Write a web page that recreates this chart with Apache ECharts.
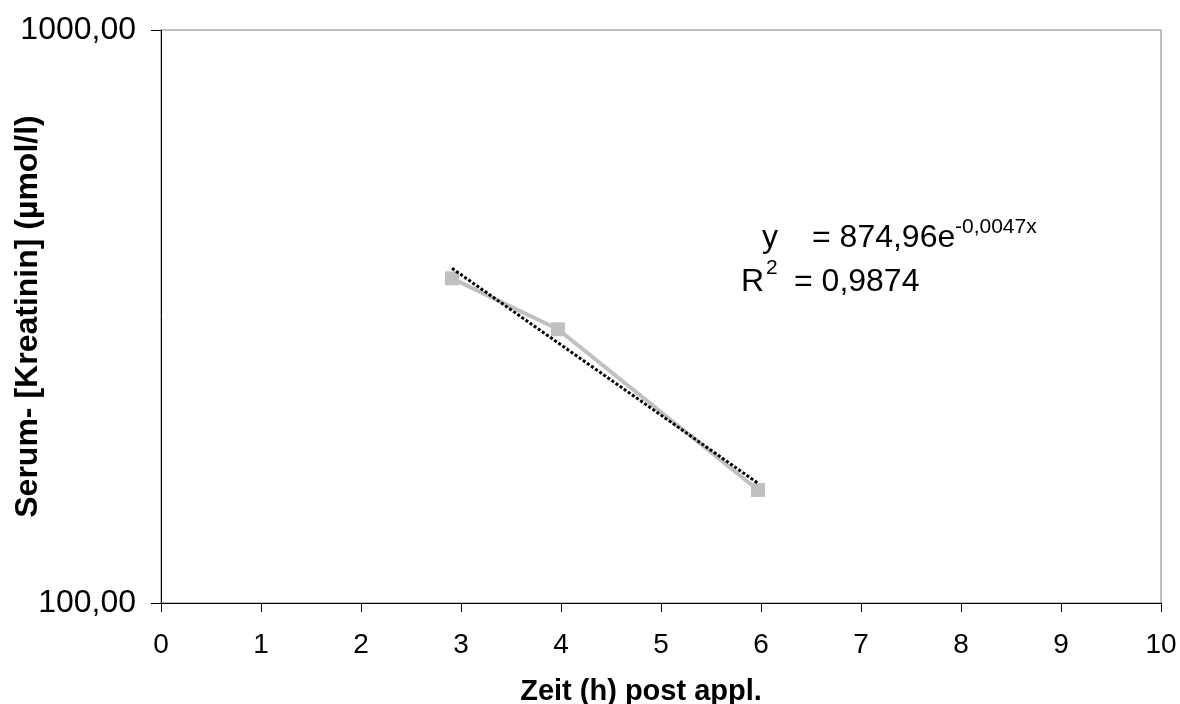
<!DOCTYPE html>
<html>
<head>
<meta charset="utf-8">
<script src="https://cdn.jsdelivr.net/npm/echarts@6/dist/echarts.min.js"></script>
<style>
html,body{margin:0;padding:0;background:#fff;}
#chart{width:1180px;height:704px;}
</style>
</head>
<body>
<div id="chart"></div>
<script>
// Data
var xValues = [2.91, 3.97, 5.97];             // Zeit (h) post appl.
var yValues = [368.6, 300.4, 157.5];          // Serum-Kreatinin (µmol/l)
var trendX = [2.91, 5.97];                    // exponential trendline ends
var trendY = [383.8, 161.8];
var xTicks = [0, 1, 2, 3, 4, 5, 6, 7, 8, 9, 10];
var yTicks = [100, 1000];
var equationMain = '= 874,96e';
var equationExp = '-0,0047x';
var rSquared = '= 0,9874';

var FONT = '"Liberation Sans", Arial, Helvetica, sans-serif';

var chart = echarts.init(document.getElementById('chart'), null, {renderer: 'canvas'});

var dataPts = xValues.map(function (x, i) { return [x, yValues[i]]; });
var trendPts = trendX.map(function (x, i) { return [x, trendY[i]]; });

function fmtNum(v) { return v.toFixed(2).replace('.', ','); }

var option = {
  backgroundColor: '#ffffff',
  animation: false,
  grid: {
    left: 161, top: 30, width: 1000, height: 573,
    containLabel: false, outerBoundsMode: 'none',
    show: true, borderColor: '#808080', borderWidth: 1, backgroundColor: 'transparent'
  },
  xAxis: {
    type: 'value',
    min: xTicks[0], max: xTicks[xTicks.length - 1], interval: 1,
    name: 'Zeit (h) post appl.',
    nameLocation: 'middle', nameGap: 74, nameMoveOverlap: false,
    nameTextStyle: {fontFamily: FONT, fontSize: 29, fontWeight: 'bold', color: '#000', padding: [0, 40, 0, 0]},
    axisLine: {show: true, onZero: false, lineStyle: {color: '#000', width: 1}},
    axisTick: {show: true, inside: false, length: 9, lineStyle: {color: '#000'}},
    axisLabel: {fontFamily: FONT, fontSize: 28, color: '#000', margin: 28},
    splitLine: {show: false}
  },
  yAxis: {
    type: 'log', logBase: 10,
    min: yTicks[0], max: yTicks[yTicks.length - 1], interval: 1,
    name: 'Serum- [Kreatinin] (µmol/l)',
    nameLocation: 'middle', nameGap: 117, nameRotate: 90, nameMoveOverlap: false,
    nameTextStyle: {fontFamily: FONT, fontSize: 32, fontWeight: 'bold', color: '#000'},
    axisLine: {show: true, onZero: false, lineStyle: {color: '#000', width: 1}},
    axisTick: {show: true, inside: false, length: 10, lineStyle: {color: '#000'}},
    minorTick: {show: false},
    axisLabel: {fontFamily: FONT, fontSize: 32, color: '#000', margin: 25, formatter: fmtNum},
    splitLine: {show: false}
  },
  series: [
    {
      name: 'Kreatinin',
      type: 'line',
      data: dataPts,
      symbol: 'rect', symbolSize: 14,
      itemStyle: {color: '#c0c0c0'},
      lineStyle: {color: '#c0c0c0', width: 4},
      z: 2
    },
    {
      name: 'Trend',
      type: 'line',
      data: trendPts,
      symbol: 'none',
      lineStyle: {color: '#000', width: 3, type: [3, 2]},
      z: 3
    }
  ],
  graphic: [
    {type: 'text', x: 762, y: 238, style: {text: 'y', font: '32px ' + FONT, fill: '#000', verticalAlign: 'middle'}},
    {type: 'text', x: 812, y: 238, style: {text: equationMain, font: '32px ' + FONT, fill: '#000', verticalAlign: 'middle'}},
    {type: 'text', x: 955, y: 227, style: {text: equationExp, font: '21px ' + FONT, fill: '#000', verticalAlign: 'middle'}},
    {type: 'text', x: 741, y: 282, style: {text: 'R', font: '32px ' + FONT, fill: '#000', verticalAlign: 'middle'}},
    {type: 'text', x: 766, y: 268, style: {text: '2', font: '21px ' + FONT, fill: '#000', verticalAlign: 'middle'}},
    {type: 'text', x: 794, y: 282, style: {text: rSquared, font: '32px ' + FONT, fill: '#000', verticalAlign: 'middle'}}
  ]
};
chart.setOption(option);
</script>
</body>
</html>
